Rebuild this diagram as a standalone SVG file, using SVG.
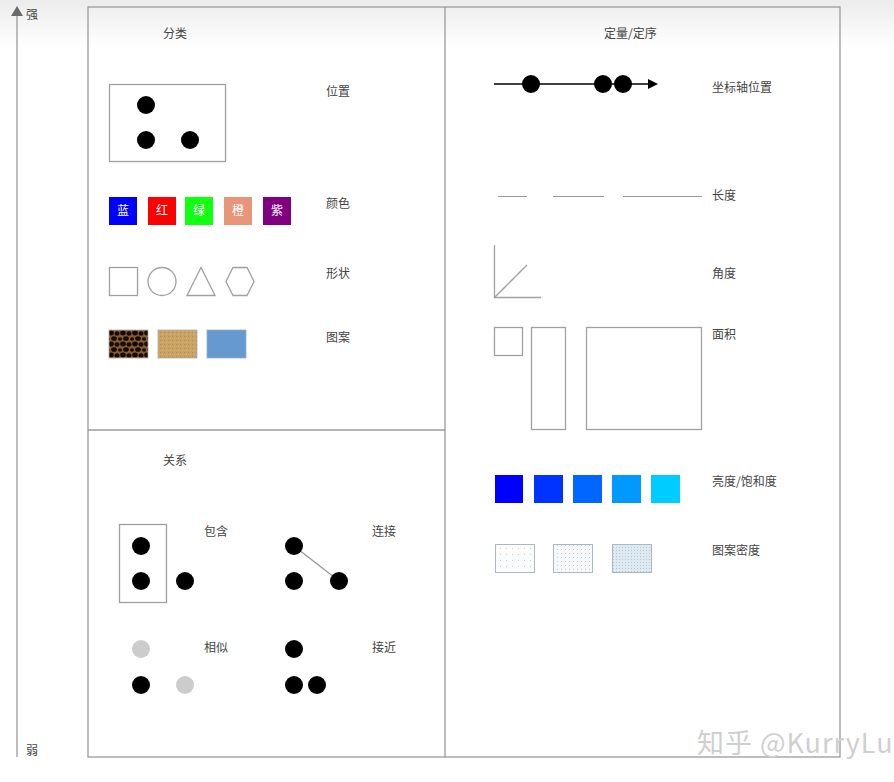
<svg xmlns="http://www.w3.org/2000/svg" width="894" height="782" viewBox="0 0 894 782">
<defs>
<style>
.lbl{font-family:"Noto Sans CJK SC","Liberation Sans",sans-serif;font-size:12px;fill:#444}
.sw{font-family:"Noto Sans CJK SC","Liberation Sans",sans-serif;font-size:12px;fill:#fff;text-anchor:middle}
.frame{fill:none;stroke:#9a9a9a;stroke-width:1.3}
.shape{fill:none;stroke:#a0a0a0;stroke-width:1.3}
.dot{fill:#000}
.gdot{fill:#cccccc}
</style>
<linearGradient id="topfade" x1="0" y1="0" x2="0" y2="1">
<stop offset="0" stop-color="#ececec"/>
<stop offset="1" stop-color="#ffffff"/>
</linearGradient>
<pattern id="leopard" width="12" height="11" patternUnits="userSpaceOnUse">
<rect width="12" height="11" fill="#8a5a30"/>
<ellipse cx="3" cy="3" rx="2.8" ry="2.4" fill="#140a04"/>
<ellipse cx="9" cy="3.5" rx="2.5" ry="2.2" fill="#140a04"/>
<ellipse cx="6" cy="8.5" rx="2.8" ry="2.3" fill="#140a04"/>
<ellipse cx="12" cy="9" rx="2" ry="1.8" fill="#140a04"/>
<ellipse cx="0" cy="9" rx="2" ry="1.8" fill="#140a04"/>
</pattern>
<pattern id="tan" width="4" height="4" patternUnits="userSpaceOnUse">
<rect width="4" height="4" fill="#c9a265"/>
<rect x="0" y="0" width="1" height="1" fill="#b38a50"/>
<rect x="2" y="2" width="1" height="1" fill="#dcb87e"/>
</pattern>
<pattern id="dens1" width="6" height="6" patternUnits="userSpaceOnUse">
<rect width="6" height="6" fill="#fbfcfd"/>
<rect x="2" y="2" width="1" height="1" fill="#c5d0da"/>
</pattern>
<pattern id="dens2" width="4" height="4" patternUnits="userSpaceOnUse">
<rect width="4" height="4" fill="#f6f8fa"/>
<rect x="1" y="1" width="1" height="1" fill="#c0ccd8"/>
</pattern>
<pattern id="dens3" width="3" height="3" patternUnits="userSpaceOnUse">
<rect width="3" height="3" fill="#dfe9f2"/>
<rect x="1" y="1" width="1" height="1" fill="#b3c6d8"/>
</pattern>
<marker id="arr" markerWidth="10" markerHeight="10" refX="8" refY="5" orient="auto" markerUnits="userSpaceOnUse">
<path d="M0,0 L10,5 L0,10 Z" fill="#000"/>
</marker>
</defs>

<rect x="0" y="0" width="894" height="782" fill="#ffffff"/>
<rect x="0" y="0" width="894" height="48" fill="url(#topfade)"/>

<g id="axis">
<line x1="17" y1="12" x2="17" y2="757" stroke="#9a9a9a" stroke-width="1.3"/>
<path d="M11,16 L17,6 L23,16 Z" fill="#6a6a6a"/>
<text class="lbl" x="26" y="19">强</text>
<text class="lbl" x="26" y="755">弱</text>
</g>

<g id="frame">
<rect class="frame" x="88" y="7" width="752" height="750"/>
<line class="frame" x1="445" y1="7" x2="445" y2="757"/>
<line class="frame" x1="88" y1="430" x2="445" y2="430"/>
</g>

<g id="categorical">
<text class="lbl" x="163" y="38">分类</text>
<g id="position">
<rect class="shape" x="109.5" y="84.5" width="116" height="77"/>
<circle class="dot" cx="146" cy="105" r="9"/>
<circle class="dot" cx="146" cy="140" r="9"/>
<circle class="dot" cx="190" cy="140" r="9"/>
<text class="lbl" x="326" y="96">位置</text>
</g>
<g id="color">
<rect x="109" y="197" width="28" height="28" fill="#0000ff"/>
<text class="sw" x="123" y="215">蓝</text>
<rect x="148" y="197" width="28" height="28" fill="#ff0000"/>
<text class="sw" x="162" y="215">红</text>
<rect x="185" y="197" width="28" height="28" fill="#11ff11"/>
<text class="sw" x="199" y="215">绿</text>
<rect x="224" y="197" width="28" height="28" fill="#e8967a"/>
<text class="sw" x="238" y="215">橙</text>
<rect x="263" y="197" width="28" height="28" fill="#800080"/>
<text class="sw" x="277" y="215">紫</text>
<text class="lbl" x="326" y="208">颜色</text>
</g>
<g id="shape">
<rect class="shape" x="109.5" y="267.5" width="28" height="28"/>
<circle class="shape" cx="162" cy="281.5" r="14"/>
<path class="shape" d="M187,295.5 L201,267.5 L215,295.5 Z"/>
<path class="shape" d="M233,267.5 L247,267.5 L254,281.5 L247,295.5 L233,295.5 L226,281.5 Z"/>
<text class="lbl" x="326" y="278">形状</text>
</g>
<g id="pattern">
<rect x="109" y="330" width="39" height="28" fill="url(#leopard)" stroke="#aaa" stroke-width="0.8"/>
<rect x="158" y="330" width="39" height="28" fill="url(#tan)" stroke="#aaa" stroke-width="0.8"/>
<rect x="207" y="330" width="39" height="28" fill="#6699d0" stroke="#9ab" stroke-width="0.8"/>
<text class="lbl" x="326" y="342">图案</text>
</g>
</g>

<g id="relational">
<text class="lbl" x="163" y="465">关系</text>
<g id="contain">
<rect class="shape" x="119.5" y="524.5" width="47" height="78"/>
<circle class="dot" cx="141" cy="546" r="9"/>
<circle class="dot" cx="141" cy="581" r="9"/>
<circle class="dot" cx="185" cy="581" r="9"/>
<text class="lbl" x="204" y="536">包含</text>
</g>
<g id="connect">
<line x1="294" y1="546" x2="339" y2="581" stroke="#999" stroke-width="1.3"/>
<circle class="dot" cx="294" cy="546" r="9"/>
<circle class="dot" cx="294" cy="581" r="9"/>
<circle class="dot" cx="339" cy="581" r="9"/>
<text class="lbl" x="372" y="536">连接</text>
</g>
<g id="similar">
<circle class="gdot" cx="141" cy="649" r="9"/>
<circle class="dot" cx="141" cy="685" r="9"/>
<circle class="gdot" cx="185" cy="685" r="9"/>
<text class="lbl" x="204" y="652">相似</text>
</g>
<g id="near">
<circle class="dot" cx="294" cy="649" r="9"/>
<circle class="dot" cx="294" cy="685" r="9"/>
<circle class="dot" cx="317" cy="685" r="9"/>
<text class="lbl" x="372" y="652">接近</text>
</g>
</g>

<g id="quantitative">
<text class="lbl" x="604" y="38">定量/定序</text>
<g id="axispos">
<line x1="494" y1="84" x2="656" y2="84" stroke="#000" stroke-width="1.3" marker-end="url(#arr)"/>
<circle class="dot" cx="531" cy="84" r="9"/>
<circle class="dot" cx="603" cy="84" r="9"/>
<circle class="dot" cx="623" cy="84" r="9"/>
<text class="lbl" x="712" y="92">坐标轴位置</text>
</g>
<g id="length">
<line x1="498" y1="196.5" x2="527" y2="196.5" stroke="#999" stroke-width="1"/>
<line x1="553" y1="196.5" x2="604" y2="196.5" stroke="#999" stroke-width="1"/>
<line x1="623" y1="196.5" x2="702" y2="196.5" stroke="#999" stroke-width="1"/>
<text class="lbl" x="712" y="200">长度</text>
</g>
<g id="angle">
<path class="shape" d="M494.5,245 L494.5,297.5 L541,297.5"/>
<line class="shape" x1="494.5" y1="297.5" x2="527" y2="265"/>
<text class="lbl" x="712" y="278">角度</text>
</g>
<g id="area">
<rect class="shape" x="494.5" y="327.5" width="28" height="28"/>
<rect class="shape" x="531.5" y="327.5" width="34" height="102"/>
<rect class="shape" x="586.5" y="327.5" width="115" height="102"/>
<text class="lbl" x="712" y="339">面积</text>
</g>
<g id="brightness">
<rect x="495" y="475" width="28" height="28" fill="#0000ff"/>
<rect x="534" y="475" width="29" height="28" fill="#0033ff"/>
<rect x="573" y="475" width="29" height="28" fill="#0066ff"/>
<rect x="612" y="475" width="29" height="28" fill="#0099ff"/>
<rect x="651" y="475" width="29" height="28" fill="#00ccff"/>
<text class="lbl" x="712" y="486">亮度/饱和度</text>
</g>
<g id="density">
<rect x="495.5" y="544.5" width="39" height="28" fill="url(#dens1)" stroke="#a8b8c4" stroke-width="1"/>
<rect x="553.5" y="544.5" width="39" height="28" fill="url(#dens2)" stroke="#a8b8c4" stroke-width="1"/>
<rect x="612.5" y="544.5" width="39" height="28" fill="url(#dens3)" stroke="#a8b8c4" stroke-width="1"/>
<text class="lbl" x="712" y="555">图案密度</text>
</g>
</g>

<text x="697" y="753" font-family="Noto Sans CJK SC,Liberation Sans,sans-serif" font-size="27" fill="#cfcfcf" letter-spacing="1">知乎 @KurryLu</text>
</svg>
